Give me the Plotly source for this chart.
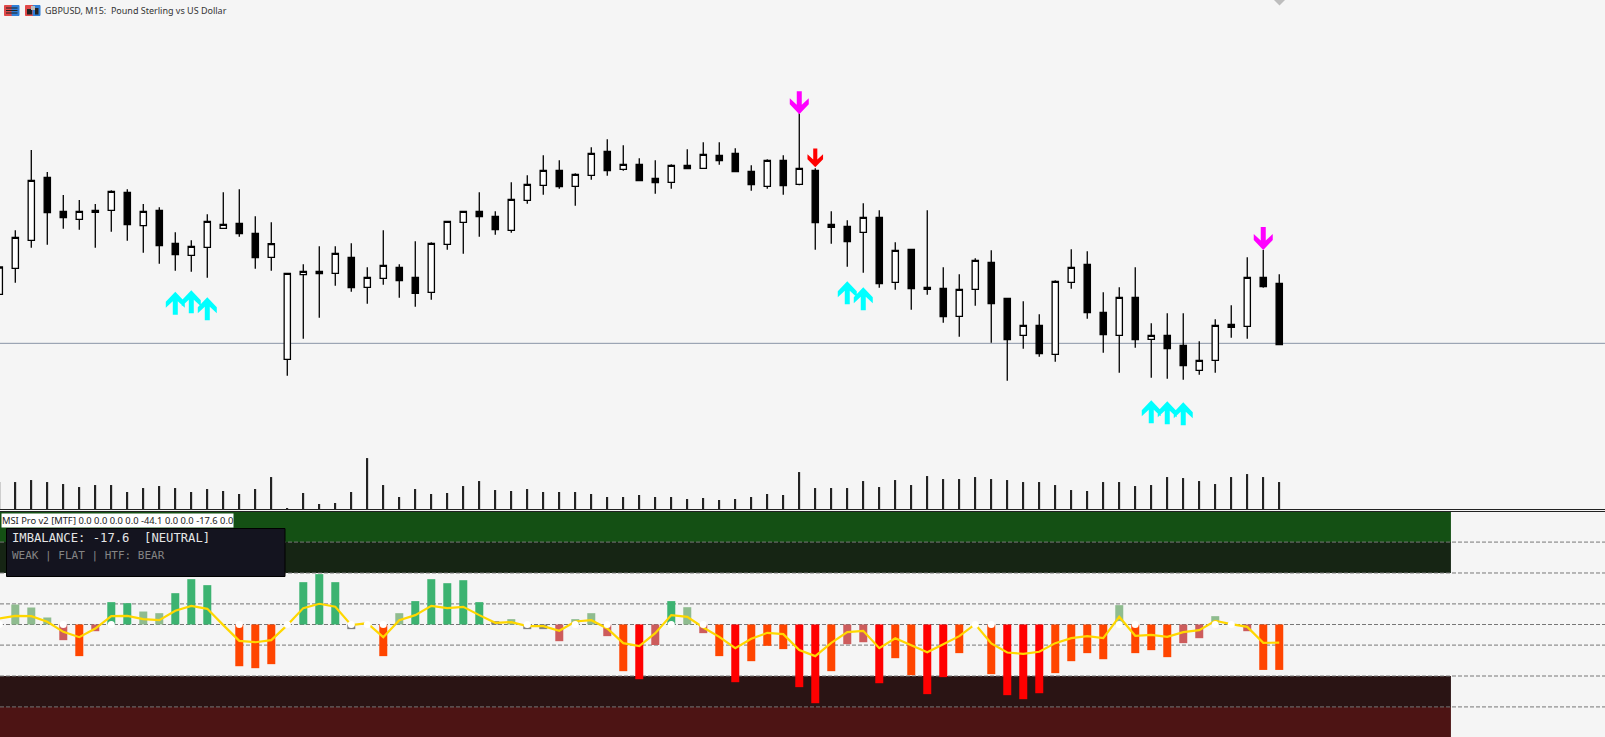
import plotly.graph_objects as go

W, H = 1605, 737

# candle data, in points relative to the bid line (3 points = 1 screen px)
opens = [147, 225, 309, 498, 396, 372, 393, 399, 453, 353, 399, 300, 264, 288, 345, 360, 330, 258, -48, 206, 216, 210, 258, 168, 195, 228, 198,
         153, 297, 363, 396, 381, 339, 429, 474, 519, 471, 504, 576, 522, 537, 495, 483, 534, 525, 564, 570, 516, 471, 549, 477, 519, 357,
         351, 333, 378, 183, 282, 168, 165, 81, 162, 243, 135, 24, 54, -33, 183, 237, 93, 24, 138, 12, 24, -6, -81, -51, 57, 51, 198, 180]
highs = [229, 339, 580, 514, 445, 430, 418, 459, 462, 418, 408, 333, 309, 387, 453, 462, 381, 363, 210, 237, 291, 291, 300, 228, 339, 237, 306,
         303, 366, 396, 453, 396, 483, 504, 564, 549, 510, 588, 612, 594, 555, 549, 537, 582, 603, 603, 585, 534, 552, 564, 690, 525, 396,
         369, 420, 399, 303, 282, 399, 228, 207, 255, 279, 135, 126, 87, 189, 282, 276, 153, 168, 228, 60, 90, 90, 6, 72, 114, 258, 280, 207]
lows = [147, 182, 287, 296, 344, 341, 287, 335, 308, 272, 239, 218, 215, 197, 345, 320, 224, 218, -97, 14, 77, 173, 155, 119, 176, 137, 110,
        131, 281, 269, 320, 326, 332, 419, 446, 464, 413, 491, 503, 518, 488, 449, 464, 524, 525, 536, 513, 458, 464, 446, 474, 281, 299,
        230, 212, 167, 161, 101, 146, 62, 20, 113, 2, -112, -16, -40, -55, 164, 74, -28, -88, -13, -103, -106, -109, -94, -88, 17, 14, 167, -4]
closes = [229, 318, 489, 392, 377, 396, 399, 456, 356, 396, 293, 266, 291, 366, 357, 329, 257, 299, 210, 216, 209, 270, 167, 198, 234, 188, 150,
          300, 366, 396, 380, 341, 432, 477, 519, 470, 507, 570, 518, 537, 488, 482, 534, 524, 567, 548, 515, 476, 549, 473, 525, 362, 348,
          305, 378, 179, 279, 164, 162, 80, 162, 249, 119, 11, 54, -31, 186, 228, 92, 26, 138, 11, 24, -16, -67, -51, 54, 48, 198, 170, -4]

volumes = [82, 82, 88, 82, 76, 67, 73, 73, 52, 64, 70, 64, 52, 61, 55, 46, 61, 97, 4, 49, 16, 19, 52, 154, 73, 37, 61,
           46, 49, 70, 85, 58, 55, 61, 52, 52, 52, 46, 37, 37, 43, 37, 37, 31, 34, 28, 31, 37, 46, 43, 112, 64, 64,
           64, 85, 67, 88, 73, 100, 91, 91, 97, 91, 88, 82, 82, 73, 58, 55, 82, 82, 70, 73, 97, 94, 85, 76, 97, 106, 97, 82]

# signal arrows: bar index and the value of the arrow tip
buy_x = [11, 12, 13, 53, 54, 72, 73, 74]
buy_y = [155, 159, 138, 186, 168, -171, -174, -177]
sell_x = [50, 79]
sell_y = [687, 280]
strong_sell_x = [51]
strong_sell_y = [528]

bid_level = 0

# indicator pane
imbalance = [0, 19.4, 16.5, 6.8, -15.2, -30.7, -6.5, 21.7, 20.7, 12.6, 11, 30.4, 44, 38.2, 0, -40.5, -42.4, -38.5, 0, 41.1, 48.9, 41.1, -4.5, 0, -30.7, 11, 22.7,
             44, 40.1, 43, 21.7, 3.2, 5.2, -4.5, -4.5, -16.2, 5.2, 11, -11.3, -45.3, -53.1, -19.9, 22.7, 16.8, -8.4, -30.7, -56, -35.6, -20.7, -23.9, -60.8, -76.4, -45.3,
             -19.1, -17.2, -57, -32.7, -49.2, -67.6, -51.1, -27.8, 0, -48.2, -68.6, -72.5, -66.7, -47.2, -35.6, -27.8, -33.7, 18.8, -27.8, -24.9, -31.7, -18.1, -13.3, 8.1, 0, -6.5, -44.1, -44.1]
signal = [5.8, 8.4, 8.1, 2.6, -7.1, -12.3, -3.9, 8.1, 8.4, 5.2, 4.2, 13.3, 18.1, 15.2, -0.6, -15.9, -17.2, -15.2, -0.6, 15.9, 20.1, 17.2, -0.6, 1.3, -12.3, 4.2, 9.1,
          18.1, 15.9, 17.2, 9.1, 1.6, 2.3, -1.6, -1.6, -6.1, 2.9, 4.2, -3.9, -18.1, -21, -8.4, 9.1, 7.4, -2.9, -12, -23, -13.9, -8.1, -9.4, -24.9, -30.7, -17.8,
          -7.4, -6.1, -23, -13.3, -20, -26.9, -19.1, -11.3, 0.3, -18.4, -27.2, -28.5, -26.5, -18.1, -13.3, -11.3, -13.3, 7.4, -11, -10, -12, -7.4, -5.5, 3.6, 0.3, -2.3, -17.8, -17.6]
dot_x = [0, 4, 7, 15, 18, 22, 23, 24, 33, 36, 38, 42, 44, 61, 62, 70, 71, 76, 77]
levels = [80, 50, 20, 0, -20, -50, -80]

title_text = "GBPUSD, M15:  Pound Sterling vs US Dollar"
label_text = "MSI Pro v2 [MTF] 0.0 0.0 0.0 0.0 -44.1 0.0 0.0 -17.6 0.0"
panel_line1 = "IMBALANCE: -17.6  [NEUTRAL]"
panel_line2 = "WEAK | FLAT | HTF: BEAR"

BG = "#F5F5F5"
px_x = 1 / 16  # one screen px in bar units
px_y = 3  # one screen px in points
ind_top = 109.2
zones_end = 90.73
x_range = [0.044, 100.36]
bars = list(range(len(opens)))


def py(y):
    return 1 - y / H


def px(x):
    return x / W


def rect(x0, y0, x1, y1, color, line=None, layer="above"):
    return dict(type="rect", xref="paper", yref="paper", x0=px(x0), x1=px(x1), y0=py(y0), y1=py(y1),
                fillcolor=color, line=dict(width=1 if line else 0, color=line or color), layer=layer)


def bar_color(v):
    if v >= 20:
        return "#3CB371"
    if v >= 5:
        return "#8FBC8F"
    if v <= -50:
        return "#FF0000"
    if v <= -20:
        return "#FF4500"
    if v <= -5:
        return "#CD5C5C"
    return "#808080"


def arrows(xs, ys, direction, scale=1.0):
    # arrow outline in screen px, measured from the tip
    outline = [(0, 0), (9.5, 10), (9.5, 16), (2.5, 9.5), (2.5, 23), (-2.5, 23), (-2.5, 9.5), (-9.5, 16), (-9.5, 10), (0, 0)]
    ax, ay = [], []
    for x, y in zip(xs, ys):
        for dx, dy in outline:
            ax.append(x + dx * scale * px_x)
            ay.append(y - direction * dy * scale * px_y)
        ax.append(None)
        ay.append(None)
    return ax, ay


fig = go.Figure()

fig.add_trace(go.Bar(x=bars, y=volumes, width=0.11, yaxis="y2", marker=dict(color="#222222", line=dict(width=0))))

fig.add_trace(go.Candlestick(x=bars, open=opens, high=highs, low=lows, close=closes, whiskerwidth=0,
                             increasing=dict(line=dict(color="#000000", width=1.3), fillcolor="#FFFFFF"),
                             decreasing=dict(line=dict(color="#000000", width=1.3), fillcolor="#000000")))

for xs, ys, direction, color, scale in [(buy_x, buy_y, 1, "#00FFFF", 1.0), (sell_x, sell_y, -1, "#FF00FF", 1.0),
                                        (strong_sell_x, strong_sell_y, -1, "#FF0000", 0.82)]:
    ax, ay = arrows(xs, ys, direction, scale)
    fig.add_trace(go.Scatter(x=ax, y=ay, mode="lines", fill="toself", fillcolor=color, line=dict(width=0, color=color)))

fig.add_trace(go.Bar(x=bars, y=imbalance, width=0.5, yaxis="y3",
                     marker=dict(color=[bar_color(v) for v in imbalance], line=dict(width=0))))
fig.add_trace(go.Scatter(x=bars, y=signal, yaxis="y3", mode="lines", line=dict(color="#FFD700", width=2.2)))
fig.add_trace(go.Scatter(x=dot_x, y=[0] * len(dot_x), yaxis="y3", mode="markers",
                         marker=dict(color="#FFFFFF", size=7, line=dict(width=0))))

shapes = []
# level zones of the indicator
for y0, y1, color in [(80, ind_top, "#145014"), (50, 80, "#162514"), (-80, -50, "#2A1414"), (-ind_top, -80, "#4D1414")]:
    shapes.append(dict(type="rect", xref="x", yref="y3", x0=-1, x1=zones_end, y0=y0, y1=y1,
                       fillcolor=color, line=dict(width=0), layer="below"))
for level in levels:
    shapes.append(dict(type="line", xref="x", yref="y3", x0=x_range[0], x1=x_range[1], y0=level, y1=level,
                       line=dict(color="#777777", width=1, dash="4px,2px"), layer="below"))
shapes.append(dict(type="line", xref="x", yref="y", x0=x_range[0], x1=x_range[1], y0=bid_level, y1=bid_level,
                   line=dict(color="#8A94A6", width=1), layer="below"))
# pane separators
for y in [509.5, 511.5]:
    shapes.append(dict(type="line", xref="paper", yref="paper", x0=0, x1=1, y0=py(y), y1=py(y),
                       line=dict(color="#222222", width=1), layer="above"))
# dark info panel
shapes.append(rect(6.5, 528.5, 285, 576.5, "#14141F", "#000000"))
# toolbar icons
shapes += [rect(4.5, 5.5, 12, 15.5, "#E04848", "#E04848"), rect(12, 5.5, 19, 15.5, "#2F7FD8", "#2F7FD8"),
           rect(6, 7.5, 17.5, 8.5, "#222222"), rect(6, 10, 17.5, 11, "#222222"), rect(6, 12.5, 17.5, 13.5, "#222222"),
           rect(25.5, 5.5, 33, 15.5, "#E04848", "#E04848"), rect(33, 5.5, 40, 15.5, "#2F7FD8", "#2F7FD8"),
           rect(27, 9, 32, 14.5, "#222222"), rect(31, 6, 35, 10, "#BBBBBB"), rect(35, 8, 38.5, 14.5, "#222222")]
# scroll marker at the top edge
shapes.append(dict(type="path", xref="paper", yref="paper", layer="above",
                   path=f"M{px(1274)},{py(0)} L{px(1285)},{py(0)} L{px(1279.5)},{py(5.5)} Z",
                   fillcolor="#BDBDBD", line=dict(width=0)))

annotations = [
    dict(xref="paper", yref="paper", x=px(42.5), y=py(10.5), xanchor="left", yanchor="middle", showarrow=False,
         text=title_text, font=dict(family="Noto Sans", size=9, color="#333333")),
    dict(xref="paper", yref="paper", x=px(1), y=py(520.5), xanchor="left", yanchor="middle", showarrow=False,
         text=label_text, bgcolor="#FFFFFF", borderpad=0, font=dict(family="Noto Sans", size=9.35, color="#222222")),
    dict(xref="paper", yref="paper", x=px(10), y=py(538), xanchor="left", yanchor="middle", showarrow=False,
         text=panel_line1, font=dict(family="DejaVu Sans Mono", size=12.2, color="#E6E6E6")),
    dict(xref="paper", yref="paper", x=px(10), y=py(555), xanchor="left", yanchor="middle", showarrow=False,
         text=panel_line2, font=dict(family="DejaVu Sans Mono", size=11, color="#858585")),
]

fig.update_layout(
    width=W, height=H, margin=dict(l=0, r=0, t=0, b=0), autosize=False,
    paper_bgcolor=BG, plot_bgcolor=BG, showlegend=False, hovermode=False, boxgap=0.44,
    xaxis=dict(visible=False, range=x_range, rangeslider=dict(visible=False)),
    yaxis=dict(visible=False, domain=[(H - 510) / H, 1], range=[-500, 1030]),
    yaxis2=dict(visible=False, domain=[(H - 510) / H, 1], range=[-2, 1530], anchor="x", overlaying="y"),
    yaxis3=dict(visible=False, domain=[0, 225 / H], range=[-ind_top, ind_top], anchor="x"),
    shapes=shapes, annotations=annotations,
)

fig.write_html("out.html", config=dict(displayModeBar=False),
               post_script="document.body.style.margin='0';document.body.style.overflow='hidden';")
